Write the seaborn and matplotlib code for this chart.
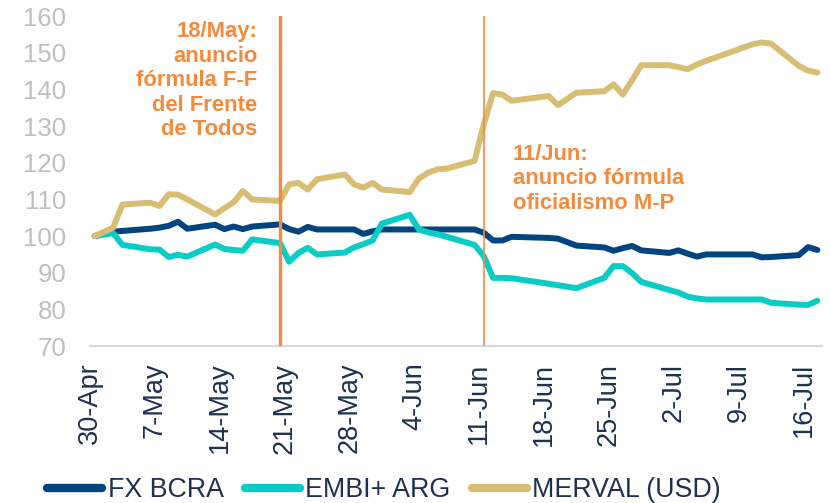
import matplotlib
matplotlib.use("Agg")
import matplotlib.pyplot as plt
import pandas as pd
import seaborn as sns

# business days (Argentina), 30-Apr to 17-Jul 2019
dates = [
    "2019-04-30", "2019-05-02", "2019-05-03", "2019-05-06", "2019-05-07",
    "2019-05-08", "2019-05-09", "2019-05-10", "2019-05-13", "2019-05-14",
    "2019-05-15", "2019-05-16", "2019-05-17", "2019-05-20", "2019-05-21",
    "2019-05-22", "2019-05-23", "2019-05-24", "2019-05-27", "2019-05-28",
    "2019-05-29", "2019-05-30", "2019-05-31", "2019-06-03", "2019-06-04",
    "2019-06-05", "2019-06-06", "2019-06-07", "2019-06-10", "2019-06-11",
    "2019-06-12", "2019-06-13", "2019-06-14", "2019-06-18", "2019-06-19",
    "2019-06-21", "2019-06-24", "2019-06-25", "2019-06-26", "2019-06-27",
    "2019-06-28", "2019-07-01", "2019-07-02", "2019-07-03", "2019-07-04",
    "2019-07-05", "2019-07-10", "2019-07-11", "2019-07-12", "2019-07-15",
    "2019-07-16", "2019-07-17",
]

fx_bcra = [
    100.0, 101.2, 101.4, 102.0, 102.3, 102.8, 103.9, 102.0, 103.1, 101.9,
    102.6, 101.9, 102.6, 103.2, 101.9, 101.2, 102.5, 101.8, 101.8, 101.8,
    100.6, 101.3, 101.8, 101.8, 101.8, 101.8, 101.8, 101.8, 101.8, 100.9,
    98.8, 98.8, 99.8, 99.5, 99.3, 97.4, 96.9, 96.0, 96.7, 97.3,
    96.1, 95.4, 96.1, 95.2, 94.4, 95.0, 95.0, 94.2, 94.3, 94.8,
    97.0, 96.2,
]

embi_arg = [
    100.0, 100.8, 97.6, 96.4, 96.3, 94.3, 94.9, 94.4, 97.7, 96.5,
    96.2, 96.0, 99.1, 98.1, 93.0, 95.4, 96.8, 95.0, 95.5, 96.9,
    97.8, 98.8, 103.4, 105.8, 101.8, 101.0, 100.5, 99.8, 97.6, 94.5,
    88.6, 88.6, 88.5, 87.0, 86.6, 85.8, 88.6, 91.8, 91.8, 89.9,
    87.5, 85.3, 84.6, 83.5, 83.0, 82.7, 82.7, 82.7, 81.8, 81.3,
    81.2, 82.4,
]

merval_usd = [
    100.0, 102.3, 108.6, 109.1, 108.2, 111.4, 111.3, 110.0, 105.9, 107.6,
    109.2, 112.3, 110.0, 109.6, 114.1, 114.5, 112.7, 115.5, 116.8, 114.1,
    113.2, 114.5, 112.7, 112.0, 115.7, 117.3, 118.2, 118.4, 120.5, 130.5,
    139.0, 138.6, 136.9, 138.2, 135.7, 139.1, 139.5, 141.4, 138.6, 142.5,
    146.6, 146.6, 146.1, 145.5, 146.8, 147.8, 152.3, 152.8, 152.5, 146.4,
    145.1, 144.6,
]

series_names = ["FX BCRA", "EMBI+ ARG", "MERVAL (USD)"]
series_colors = ["#00457F", "#08CCC6", "#D8BE74"]

event_dates = ["2019-05-20", "2019-06-11"]
event_texts = [
    "18/May:\nanuncio\nfórmula F-F\ndel Frente\nde Todos",
    "11/Jun:\nanuncio fórmula\noficialismo M-P",
]

orange = "#F58A3C"
navy_text = "#1F3050"

# long table for seaborn, points sit in the middle of each day slot
df = pd.DataFrame({"fecha": pd.to_datetime(dates) + pd.Timedelta(hours=12),
                   series_names[0]: fx_bcra,
                   series_names[1]: embi_arg,
                   series_names[2]: merval_usd})
df_long = df.melt(id_vars="fecha", var_name="serie", value_name="valor")

sns.set_style("white")
plt.rcParams["font.family"] = ["Liberation Sans", "DejaVu Sans"]

fig = plt.figure(figsize=(8.3, 5.03), dpi=100)
ax = fig.add_axes([0.1084, 0.312, 0.882, 0.656])

sns.lineplot(data=df_long, x="fecha", y="valor", hue="serie",
             hue_order=series_names, palette=series_colors,
             linewidth=4.3, legend=False, ax=ax,
             solid_joinstyle="round", solid_capstyle="round")

# event lines
t0 = pd.Timestamp("2019-04-30")
ev = pd.to_datetime(event_dates) + pd.Timedelta(hours=12)
ax.axvline(ev[0], color=orange, lw=2.4, zorder=5)
ax.axvline(ev[1], color=orange, lw=1.2, zorder=5)

ax.text(t0 + pd.Timedelta(days=18.1), 158.6, event_texts[0], ha="right", va="top",
        fontsize=15.8, fontweight="bold", color=orange, linespacing=1.22)
ax.text(t0 + pd.Timedelta(days=45.6), 125.2, event_texts[1], ha="left", va="top",
        fontsize=15.8, fontweight="bold", color=orange, linespacing=1.22)

# axes
ax.set_ylim(70, 160)
ax.set_yticks(range(70, 161, 10))
ax.set_xlim(t0, t0 + pd.Timedelta(days=78.6))
week_ticks = pd.date_range("2019-04-30", "2019-07-16", freq="7D")
ax.set_xticks(week_ticks)
ax.set_xticklabels([f"{d.day}-{d.strftime('%b')}" for d in week_ticks], rotation=90)
ax.set_xticks(pd.date_range("2019-04-30", "2019-07-18", freq="D"), minor=True)
ax.set_xlabel("")
ax.set_ylabel("")

for s in ["top", "right", "left"]:
    ax.spines[s].set_visible(False)
ax.spines["bottom"].set_color("#D9D9D9")
ax.spines["bottom"].set_linewidth(1.5)

ax.tick_params(axis="y", length=0, pad=17, labelsize=18.5, labelcolor="#BFBFBF")
ax.tick_params(axis="x", which="major", length=6, width=1.5, color="#D9D9D9",
               direction="out", pad=6, labelsize=19.5, labelcolor=navy_text)
ax.tick_params(axis="x", which="minor", length=2, width=1.2, color="#D3DEEA",
               direction="inout")
ax.grid(False)

fig.legend(handles=ax.get_lines()[:3], labels=series_names, loc="center",
           bbox_to_anchor=(0.4627, 0.026), ncol=3, frameon=False,
           fontsize=19.3, labelcolor=navy_text, handlelength=2.05,
           handletextpad=0.2, columnspacing=0.8, borderaxespad=0)
for line in fig.legends[0].get_lines():
    line.set_linewidth(6)

fig.savefig("out.png", dpi=100)
